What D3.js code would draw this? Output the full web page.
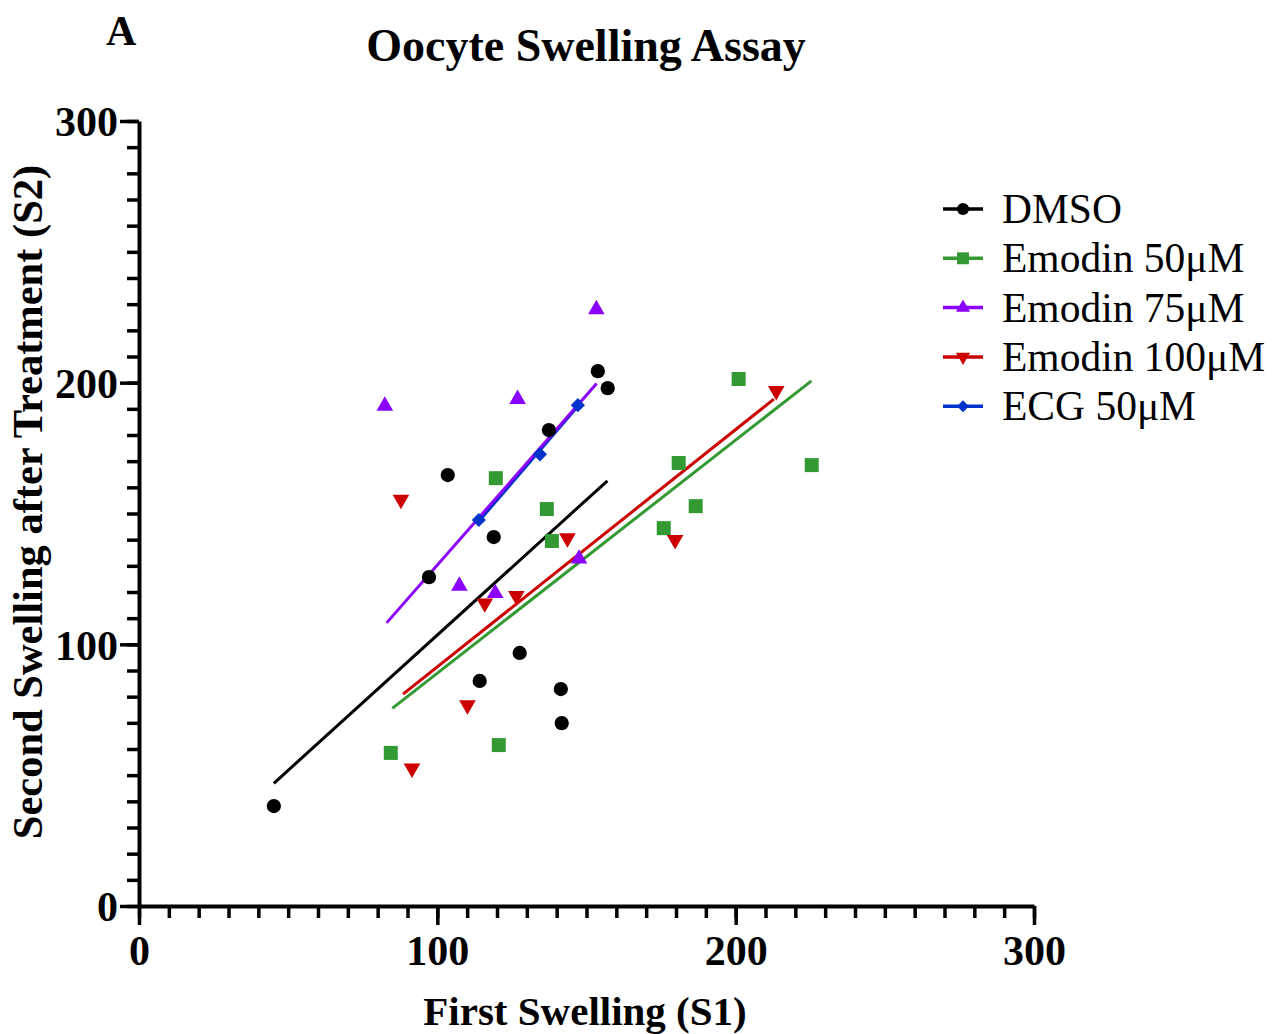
<!DOCTYPE html>
<html lang="en">
<head>
  <meta charset="UTF-8" />
  <title>Oocyte Swelling Assay</title>
  <script src="https://d3js.org/d3.v7.min.js"></script>
  <style>
    body { margin: 0; background: #fff; }
    text { font-family: 'Liberation Serif', 'Times New Roman', serif; fill: #000; }
    .bold { font-weight: bold; }
  </style>
</head>
<body>
<script>
  // series names + colours
  const seriesNames = ["DMSO", "Emodin 50\u03bcM", "Emodin 75\u03bcM", "Emodin 100\u03bcM", "ECG 50\u03bcM"];
  const seriesColors = ["#000000", "#339933", "#8c00ff", "#cc0000", "#0033cc"];
  const seriesShapes = ["circle", "square", "triangleUp", "triangleDown", "diamond"];

  // first swelling (S1) per series
  const dmsoS1 = [45.2, 97.2, 103.5, 118.9, 137.4, 153.8, 157.1, 114.2, 127.6, 141.4, 141.7];
  const emo50S1 = [84.4, 120.6, 119.6, 136.7, 138.4, 175.9, 180.9, 186.6, 201.0, 225.5];
  const emo75S1 = [82.4, 126.9, 153.3, 107.4, 119.4, 147.5];
  const emo100S1 = [87.8, 143.6, 115.9, 126.5, 110.1, 91.5, 179.7, 213.6];
  const ecgS1 = [113.9, 134.4, 147.1];

  // second swelling after treatment (S2)
  const dmsoS2 = [38.2, 125.7, 164.7, 141.0, 181.9, 204.4, 197.9, 86.0, 96.7, 82.9, 69.9];
  const emo50S2 = [58.5, 61.5, 163.5, 151.7, 139.5, 144.4, 169.3, 152.8, 201.4, 168.5];
  const emo75S2 = [191.1, 193.7, 228.0, 122.3, 119.5, 132.7];
  const emo100S2 = [155.3, 140.6, 115.7, 118.5, 76.8, 52.6, 139.9, 196.9];
  const ecgS2 = [147.5, 172.6, 191.4];

  // fitted lines: [start, end] in data units
  const fitX = [[45.2, 157.0], [84.9, 225.4], [83.0, 153.4], [88.5, 212.8], [113.9, 147.1]];
  const fitY = [[46.9, 162.5], [75.5, 200.7], [108.2, 199.7], [81.0, 193.7], [147.0, 191.0]];

  const majorTicks = [0, 100, 200, 300];
  const minorTicks = d3.range(0, 301, 10);

  const allS1 = [dmsoS1, emo50S1, emo75S1, emo100S1, ecgS1];
  const allS2 = [dmsoS2, emo50S2, emo75S2, emo100S2, ecgS2];

  const width = 1281, height = 1034;
  const svg = d3.select("body").append("svg")
    .attr("width", width)
    .attr("height", height);

  const x = d3.scaleLinear().domain([0, 300]).range([139, 1034]);
  const y = d3.scaleLinear().domain([0, 300]).range([906, 121]);

  // title + panel letter
  svg.append("text").attr("class", "bold")
    .attr("x", 586).attr("y", 61)
    .attr("text-anchor", "middle")
    .style("font-size", "46px")
    .text("Oocyte Swelling Assay");
  svg.append("text").attr("class", "bold")
    .attr("x", 106).attr("y", 45)
    .style("font-size", "42px")
    .text("A");

  // axes: minor ticks first, then major with labels
  function styleAxis(g) {
    g.selectAll("path.domain").attr("stroke", "#000").attr("stroke-width", 4);
    g.selectAll(".tick line").attr("stroke", "#000").attr("stroke-width", 3.5);
  }

  const xg = svg.append("g").attr("transform", `translate(0,${y(0)})`);
  xg.call(d3.axisBottom(x).tickValues(minorTicks).tickSize(12).tickSizeOuter(0).tickFormat(""))
    .call(styleAxis);
  const xg2 = svg.append("g").attr("transform", `translate(0,${y(0)})`);
  xg2.call(d3.axisBottom(x).tickValues(majorTicks).tickSize(19).tickSizeOuter(0).tickPadding(8))
    .call(styleAxis);
  xg2.select("path.domain").remove();
  xg2.selectAll(".tick text")
    .attr("class", "bold")
    .style("font-size", "42px")
    .attr("dy", "0.75em");

  const yg = svg.append("g").attr("transform", `translate(${x(0)},0)`);
  yg.call(d3.axisLeft(y).tickValues(minorTicks).tickSize(12).tickSizeOuter(0).tickFormat(""))
    .call(styleAxis);
  const yg2 = svg.append("g").attr("transform", `translate(${x(0)},0)`);
  yg2.call(d3.axisLeft(y).tickValues(majorTicks).tickSize(19).tickSizeOuter(0).tickPadding(2))
    .call(styleAxis);
  yg2.select("path.domain").remove();
  yg2.selectAll(".tick text")
    .attr("class", "bold")
    .style("font-size", "42px")
    .attr("dy", "0.35em");

  // axis titles
  svg.append("text").attr("class", "bold")
    .attr("x", 585).attr("y", 1025)
    .attr("text-anchor", "middle")
    .style("font-size", "41px")
    .text("First Swelling (S1)");
  svg.append("text").attr("class", "bold")
    .attr("transform", "translate(42,502) rotate(-90)")
    .attr("text-anchor", "middle")
    .style("font-size", "42.5px")
    .text("Second Swelling after Treatment (S2)");

  // marker paths
  const symbolFor = {
    circle: d3.symbol().type(d3.symbolCircle).size(160)(),
    square: d3.symbol().type(d3.symbolSquare).size(196)(),
    triangleUp: d3.symbol().type(d3.symbolTriangle).size(120)(),
    triangleDown: d3.symbol().type(d3.symbolTriangle).size(120)(),
    diamond: d3.symbol().type(d3.symbolSquare).size(100)()
  };
  const rotFor = { circle: 0, square: 0, triangleUp: 0, triangleDown: 180, diamond: 45 };

  // fit lines (ECG drawn under Emodin 75 line like the original)
  const lineOrder = [0, 1, 4, 2, 3];
  const line = d3.line().x(d => x(d[0])).y(d => y(d[1]));
  lineOrder.forEach(i => {
    svg.append("path")
      .datum([[fitX[i][0], fitY[i][0]], [fitX[i][1], fitY[i][1]]])
      .attr("d", line)
      .attr("fill", "none")
      .attr("stroke", seriesColors[i])
      .attr("stroke-width", 3);
  });

  // scatter points
  seriesNames.forEach((name, i) => {
    const pts = allS1[i].map((v, j) => [v, allS2[i][j]]);
    svg.append("g").selectAll("path")
      .data(pts)
      .enter().append("path")
      .attr("d", symbolFor[seriesShapes[i]])
      .attr("transform", d => `translate(${x(d[0])},${y(d[1])}) rotate(${rotFor[seriesShapes[i]]})`)
      .attr("fill", seriesColors[i]);
  });

  // legend
  const legend = svg.append("g").attr("transform", "translate(943,209)");
  seriesNames.forEach((name, i) => {
    const row = legend.append("g").attr("transform", `translate(0,${i * 49.3})`);
    row.append("line")
      .attr("x1", 0).attr("x2", 40)
      .attr("stroke", seriesColors[i]).attr("stroke-width", 3.5);
    row.append("path")
      .attr("d", symbolFor[seriesShapes[i]])
      .attr("transform", `translate(20,0) rotate(${rotFor[seriesShapes[i]]}) scale(0.85)`)
      .attr("fill", seriesColors[i]);
    row.append("text")
      .attr("x", 59).attr("y", 14)
      .style("font-size", "41.5px")
      .text(name);
  });
</script>
</body>
</html>
